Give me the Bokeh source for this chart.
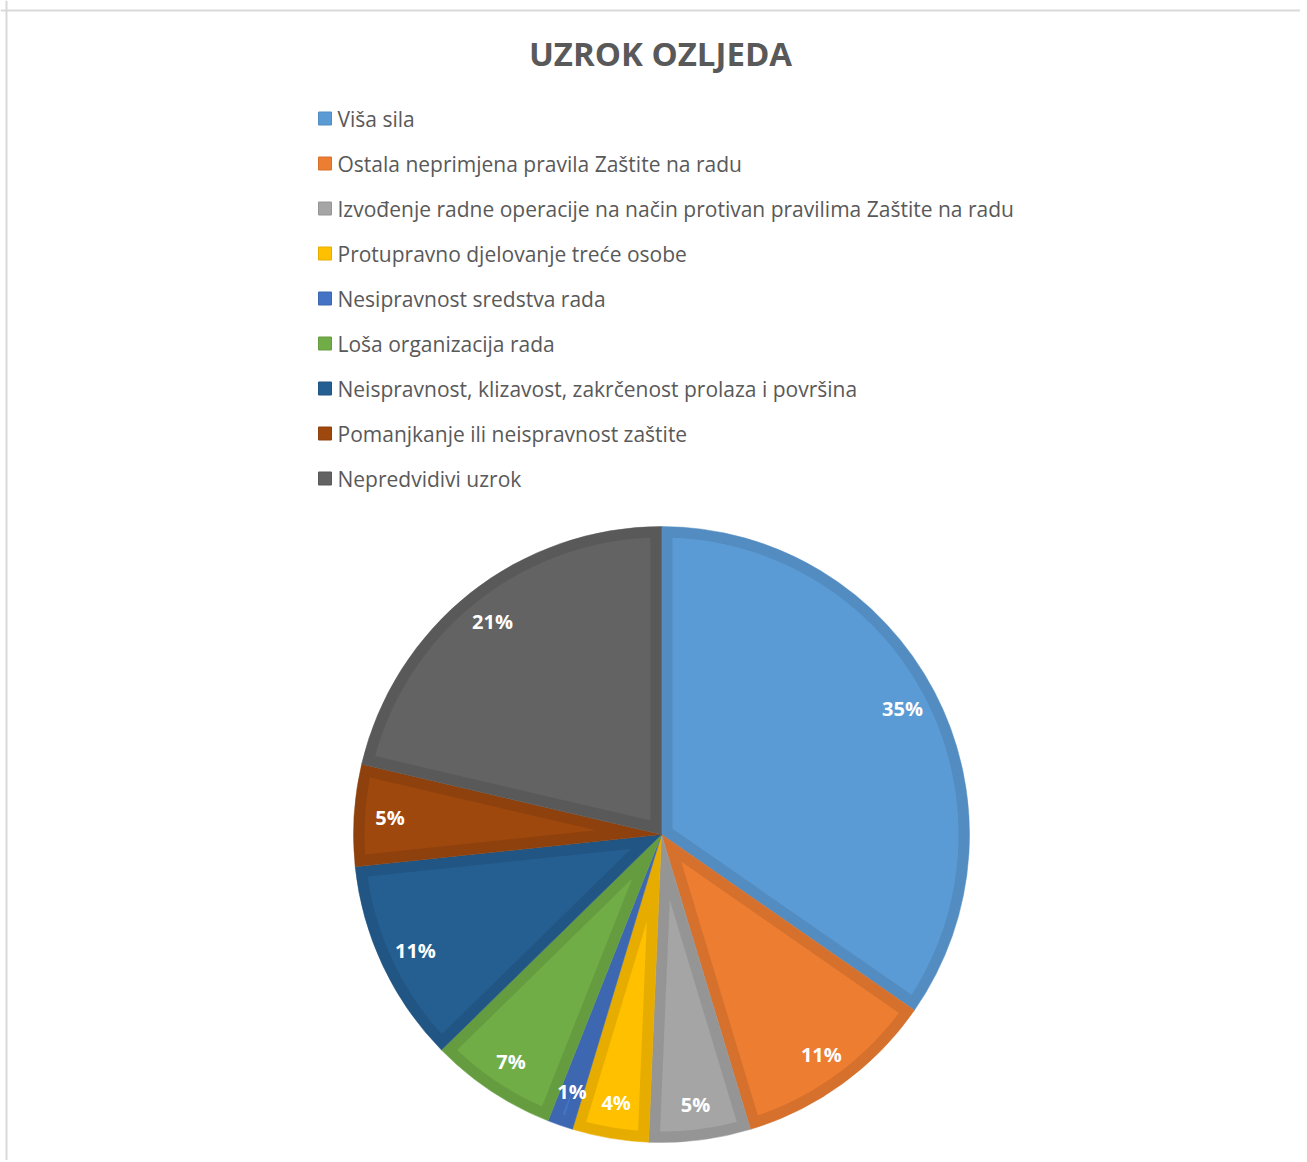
import numpy as np
from bokeh.plotting import figure
from bokeh.models import Range1d, Span, ColumnDataSource
from bokeh.core.properties import value
from bokeh.embed import file_html
from bokeh.resources import INLINE

# ---------------- data ----------------
title = "UZROK OZLJEDA"
categories = [
    "Viša sila",
    "Ostala neprimjena pravila Zaštite na radu",
    "Izvođenje radne operacije na način protivan pravilima Zaštite na radu",
    "Protupravno djelovanje treće osobe",
    "Nesipravnost sredstva rada",
    "Loša organizacija rada",
    "Neispravnost, klizavost, zakrčenost prolaza i površina",
    "Pomanjkanje ili neispravnost zaštite",
    "Nepredvidivi uzrok",
]
counts = [26, 8, 4, 3, 1, 5, 8, 4, 16]
colors = ["#5B9BD5", "#ED7D31", "#A5A5A5", "#FFC000", "#4472C4",
          "#70AD47", "#255E91", "#9E480E", "#636363"]
edge_colors = ["#528CC0", "#D5712C", "#959595", "#E6AD00", "#3D67B0",
               "#659C40", "#215583", "#8E410D", "#595959"]

# ---------------- layout ----------------
W, H = 1300, 1160
cx, cy, r, d = 661, 326, 308, 11
label_r = 272

p = figure(width=W, height=H, x_range=Range1d(0, W), y_range=Range1d(0, H),
           output_backend="svg", toolbar_location=None, min_border=0,
           x_axis_type=None, y_axis_type=None)
p.grid.visible = False
p.outline_line_color = None
p.background_fill_color = "white"
p.border_fill_color = "white"

p.add_layout(Span(location=H - 10, dimension="width", line_color="#d9d9d9", line_width=2))
p.add_layout(Span(location=6, dimension="height", line_color="#d9d9d9", line_width=2))

vals = np.array(counts, dtype=float)
total = vals.sum()
frac = vals / total
cum = np.concatenate([[0.0], np.cumsum(frac)]) * 2 * np.pi  # clockwise from top
t1, t2 = cum[:-1], cum[1:]

src = ColumnDataSource(dict(
    start=np.pi / 2 - t1, end=np.pi / 2 - t2,
    fill=colors, edge=edge_colors, cat=categories, cnt=counts))
p.wedge(x=cx, y=cy, radius=r, start_angle="start", end_angle="end",
        direction="clock", fill_color="edge", line_color="edge",
        line_width=0.5, source=src)

# inner lighter region (bevel look)
xs, ys, fills = [], [], []
Rp = r - d
delta = np.arcsin(d / Rp)
for a1, a2, c in zip(t1, t2, colors):
    h = (a2 - a1) / 2
    m = (a1 + a2) / 2
    if delta >= h:
        continue
    apex = d / np.sin(h)
    arc = np.linspace(a1 + delta, a2 - delta, 120)
    px = [cx + apex * np.sin(m)] + list(cx + Rp * np.sin(arc))
    py = [cy + apex * np.cos(m)] + list(cy + Rp * np.cos(arc))
    xs.append(px); ys.append(py); fills.append(c)
p.patches(xs=xs, ys=ys, fill_color=fills, line_color=None)

# data labels
mid = (t1 + t2) / 2
labels = [f"{int(round(100 * f))}%" for f in frac]
p.text(x=cx + label_r * np.sin(mid), y=cy + label_r * np.cos(mid), text=labels,
       text_color="white", text_font=value("Open Sans"), text_font_style="bold",
       text_font_size="20px", text_align="center", text_baseline="middle")

# title
p.text(x=[660], y=[H - 53], text=[title], text_color="#595959",
       text_font=value("Open Sans"), text_font_style="bold",
       text_font_size="33px", text_align="center", text_baseline="middle")

# legend
idx = np.arange(len(categories))
ly = (H - 118) - 45 * idx
p.scatter(x=324.5, y=ly, marker="square", size=13, fill_color=colors,
          line_color=edge_colors, line_width=1)
p.text(x=337, y=ly, text=categories, text_color="#595959",
       text_font=value("Open Sans"), text_font_size="21px",
       text_align="left", text_baseline="middle")

open("out.html", "w").write(file_html(p, INLINE))
